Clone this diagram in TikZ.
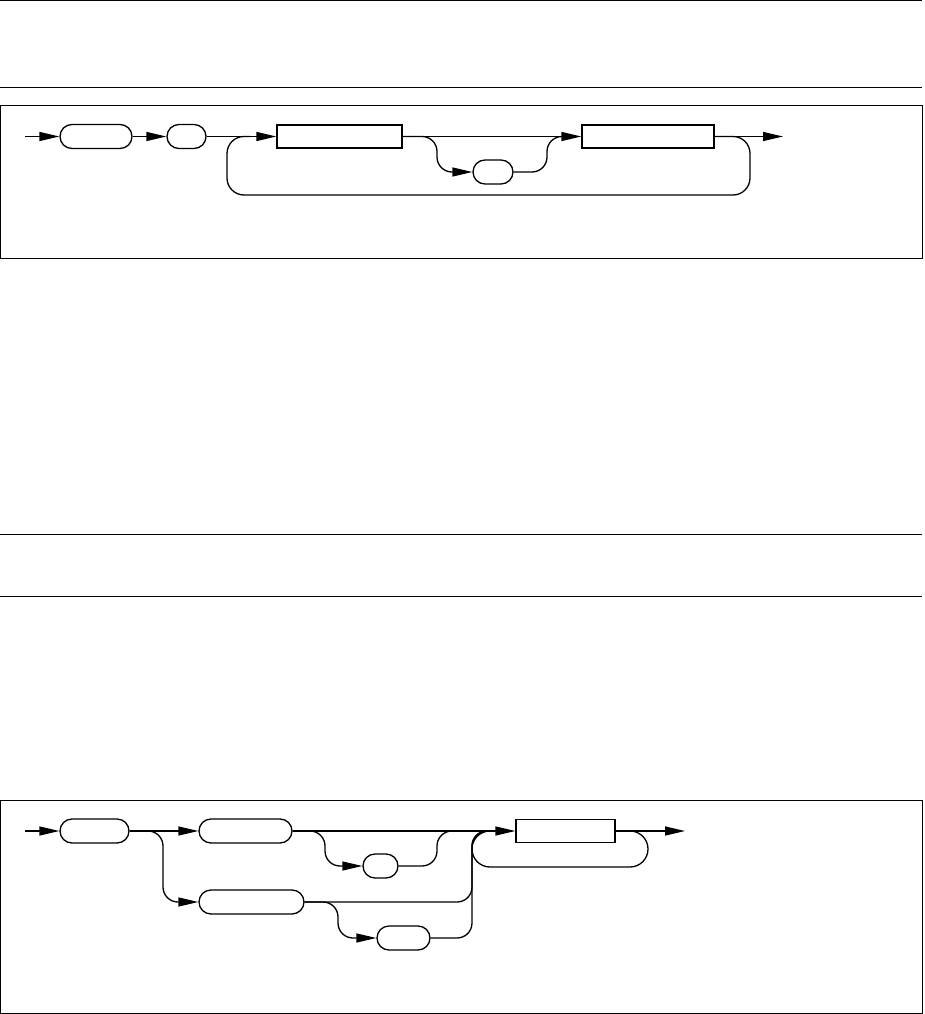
\documentclass[tikz,border=0pt]{standalone}
\usetikzlibrary{arrows.meta}
\begin{document}
\begin{tikzpicture}[x=1pt,y=-1pt,
  conn/.style={line width=1.3pt},
  arr/.style={conn,-{Triangle[length=20pt,width=9pt]}},
  term/.style={draw,line width=1.3pt,rounded corners=12pt,minimum height=24pt,inner sep=0pt},
  nonterm/.style={draw,line width=1.3pt,minimum height=23pt,inner sep=0pt},
  frame/.style={line width=1pt},
  rc/.style={rounded corners=15pt},
  rcl/.style={rounded corners=17pt}]
\useasboundingbox (0,0) rectangle (925,1014);

% rules and frames
\draw[frame] (0,1) -- (922,1);
\draw[frame] (0,88) -- (922,88);
\draw[frame] (0.5,106) rectangle (922.5,258);
\draw[frame] (0,534) -- (922,534);
\draw[frame] (0,596) -- (922,596);
\draw[frame] (0.5,800) rectangle (922.5,1013);

% ---------- diagram 1 ----------
\coordinate (s1) at (25,136.5);
\node[term, minimum width=72pt] (t1) at (96,136.5) {};
\node[term, minimum width=39pt] (t2) at (186.5,136.5) {};
\node[nonterm, minimum width=125pt] (b1) at (339.5,136.5) {};
\node[term, minimum width=40pt] (t3) at (493,172) {};
\node[nonterm, minimum width=132pt] (b2) at (648,136.5) {};
\coordinate (e1) at (783,136.5);
\coordinate (j1) at (565,136.5);
\coordinate (l1) at (250,136.5);

\draw[arr] (s1) -- (t1);
\draw[arr] (t1) -- (t2);
\draw[arr] (t2) -- (b1);
\draw[arr] (b1) -- (b2);
\draw[arr, rc] (b1.east) -| (437,172) -- (t3.west);
\draw[conn, rc] (t3.east) -| (547,136.5) -- (j1);
\draw[conn, rcl] (b2.east) -| (750,195) -| (227,136.5) -- (l1);
\draw[arr] (b2) -- (e1);

% ---------- diagram 2 ----------
\coordinate (s2) at (25,831);
\node[term, minimum width=69pt] (A) at (94.5,831) {};
\node[term, minimum width=93pt] (B) at (245.5,831) {};
\node[term, minimum width=105pt] (C) at (251.5,902) {};
\node[term, minimum width=35pt] (E) at (380.5,866) {};
\node[term, minimum width=53pt] (F) at (403.5,938) {};
\node[nonterm, minimum width=99pt] (D) at (565.5,831) {};
\coordinate (e2) at (685,831);
\coordinate (j2) at (455,831);
\coordinate (j3) at (492,831);

\draw[arr] (s2) -- (A);
\draw[arr] (A) -- (B);
\draw[arr, rc] (A.east) -| (163,902) -- (C.west);
\draw[arr] (B) -- (D);
\draw[arr, rc] (B.east) -| (325,866) -- (E.west);
\draw[conn, rc] (E.east) -| (437,831) -- (j2);
\draw[conn, rc] (C.east) -| (472,831) -- (j3);
\draw[arr, rc] (C.east) -| (338,938) -- (F.west);
\draw[conn, rc] (F.east) -| (472,831) -- (j3);
\draw[conn, rounded corners=18pt] (D.east) -| (648,867) -| (472,831) -- (j3);
\draw[arr] (D) -- (e2);
\end{tikzpicture}
\end{document}
